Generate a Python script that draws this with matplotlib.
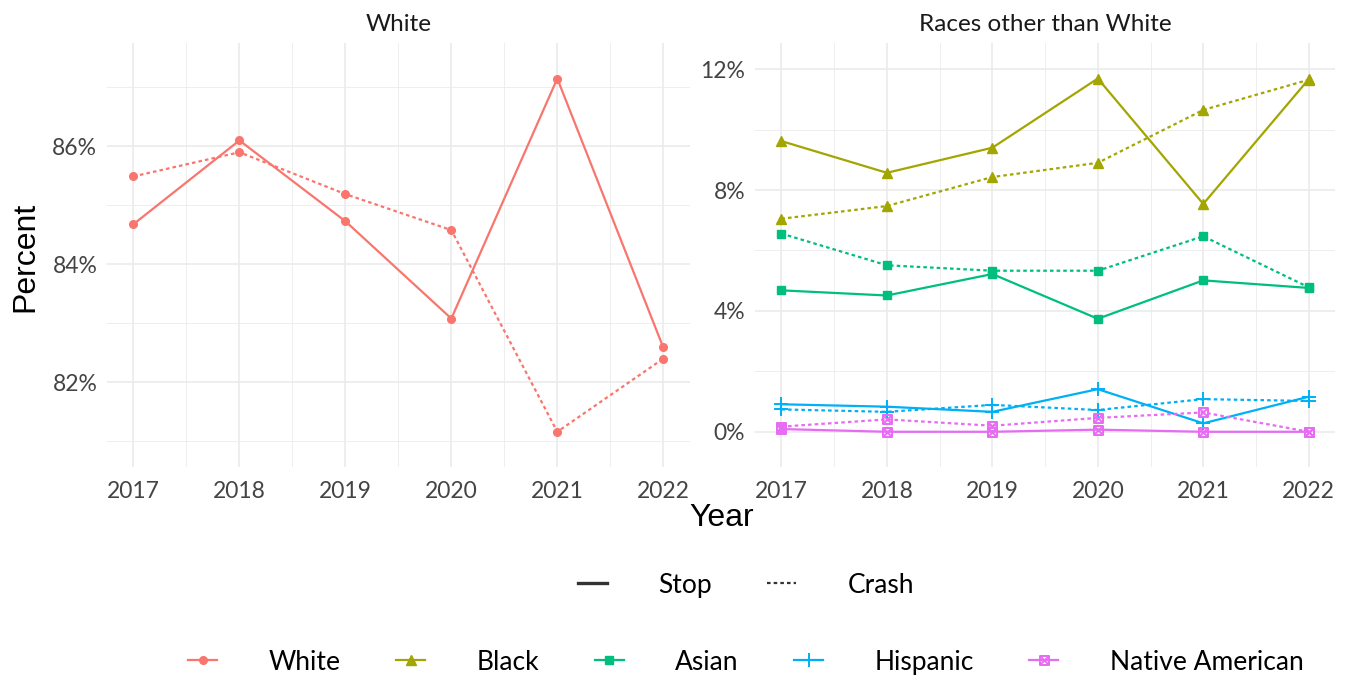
import matplotlib
matplotlib.use("Agg")
import matplotlib.pyplot as plt
from matplotlib.lines import Line2D
from matplotlib.path import Path
from matplotlib.ticker import FuncFormatter, MultipleLocator

years = [2017, 2018, 2019, 2020, 2021, 2022]

white_stop = [84.68, 86.10, 84.73, 83.08, 87.15, 82.59]
white_crash = [85.49, 85.90, 85.19, 84.58, 81.16, 82.40]
black_stop = [9.62, 8.57, 9.40, 11.69, 7.54, 11.67]
black_crash = [7.05, 7.47, 8.43, 8.90, 10.65, 11.65]
asian_stop = [4.68, 4.51, 5.22, 3.74, 5.01, 4.76]
asian_crash = [6.56, 5.51, 5.33, 5.33, 6.47, 4.78]
hispanic_stop = [0.91, 0.83, 0.66, 1.41, 0.28, 1.16]
hispanic_crash = [0.74, 0.66, 0.89, 0.72, 1.08, 1.02]
native_stop = [0.09, 0.00, 0.00, 0.07, 0.00, 0.00]
native_crash = [0.17, 0.41, 0.20, 0.46, 0.64, 0.00]

groups = ["White", "Black", "Asian", "Hispanic", "Native American"]
colors = ["#F8766D", "#A3A500", "#00BF7D", "#00B0F6", "#E76BF3"]

# square with a cross, like ggplot shape 7
box_x = Path(
    [(-1, -1), (1, -1), (1, 1), (-1, 1), (-1, -1), (-1, -1), (1, 1), (-1, 1), (1, -1)],
    [Path.MOVETO, Path.LINETO, Path.LINETO, Path.LINETO, Path.CLOSEPOLY,
     Path.MOVETO, Path.LINETO, Path.MOVETO, Path.LINETO],
)
markers = ["o", "^", "s", "+", box_x]
msizes = [5.5, 6.5, 5.5, 10, 6.5]

FONT = "Lato"
TITLE_FONT = "Liberation Sans"
GRID = "#EBEBEB"
TICK_C = "#4D4D4D"
DOTTED = (0, (1.6, 1.4))


def style(i):
    kw = dict(color=colors[i], marker=markers[i], markersize=msizes[i], lw=1.6)
    if markers[i] == "+" or isinstance(markers[i], Path):
        kw.update(markerfacecolor="none", markeredgewidth=1.4)
    return kw


fig = plt.figure(figsize=(13.49, 6.75), dpi=100)
ax1 = fig.add_axes([0.0793, 0.308, 0.432, 0.628])
ax2 = fig.add_axes([0.5597, 0.308, 0.430, 0.628])


def draw(ax, i, stop, crash):
    ax.plot(years, stop, linestyle="-", **style(i))
    ax.plot(years, crash, linestyle=DOTTED, **style(i))


draw(ax1, 0, white_stop, white_crash)
draw(ax2, 1, black_stop, black_crash)
draw(ax2, 2, asian_stop, asian_crash)
draw(ax2, 3, hispanic_stop, hispanic_crash)
draw(ax2, 4, native_stop, native_crash)

pct = FuncFormatter(lambda v, p: f"{v:.0f}%")
for ax, title, step in [(ax1, "White", 2), (ax2, "Races other than White", 4)]:
    ax.margins(x=0.05, y=0.10)
    ax.xaxis.set_major_locator(MultipleLocator(1))
    ax.xaxis.set_minor_locator(MultipleLocator(0.5))
    ax.yaxis.set_major_locator(MultipleLocator(step))
    ax.yaxis.set_minor_locator(MultipleLocator(step / 2))
    ax.yaxis.set_major_formatter(pct)
    ax.grid(which="major", color=GRID, lw=1.2)
    ax.grid(which="minor", color=GRID, lw=0.6)
    ax.set_axisbelow(True)
    for s in ax.spines.values():
        s.set_visible(False)
    ax.tick_params(which="both", length=0, labelcolor="#444444", labelsize=16.5)
    ax.tick_params(axis="x", pad=10)
    ax.tick_params(axis="y", pad=7)
    for lab in ax.get_xticklabels() + ax.get_yticklabels():
        lab.set_fontfamily(FONT)
    ax.set_title(title, fontsize=17.5, fontfamily=FONT, color="#1A1A1A", pad=9)

fig.text(0.535, 0.233, "Year", ha="center", va="center", fontsize=23, fontfamily=TITLE_FONT)
fig.text(0.0185, 0.619, "Percent", ha="center", va="center", rotation=90, fontsize=23,
         fontfamily=TITLE_FONT)

leg_kw = dict(loc="center", frameon=False, handlelength=1.1, handletextpad=1.95,
              columnspacing=2.1, prop={"family": FONT, "size": 19})

type_handles = [Line2D([], [], color="#333333", lw=2.4, linestyle="-"),
                Line2D([], [], color="#333333", lw=1.6, linestyle=DOTTED)]
fig.legend(type_handles, ["Stop", "Crash"], bbox_to_anchor=(0.553, 0.133), ncol=2, **leg_kw)

group_handles = [Line2D([], [], **style(i)) for i in range(len(groups))]
fig.legend(group_handles, groups, bbox_to_anchor=(0.553, 0.019), ncol=5, **leg_kw)

fig.savefig("out.png", dpi=100, facecolor="white")
